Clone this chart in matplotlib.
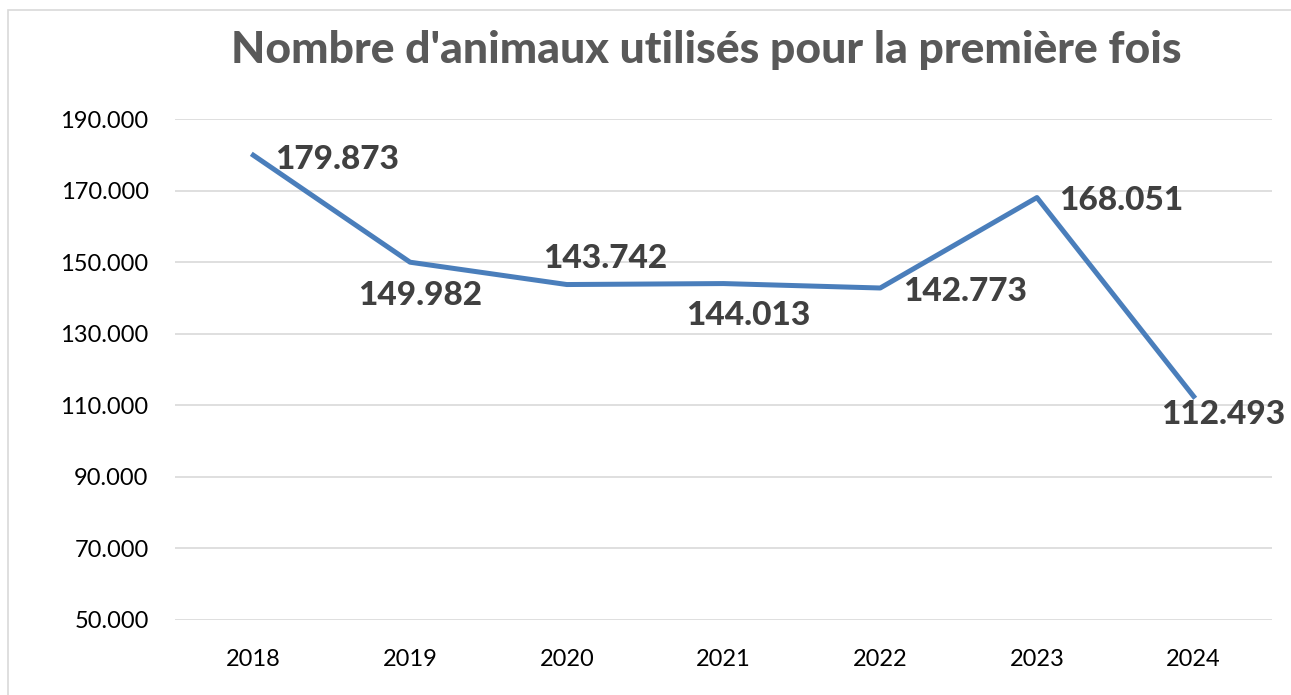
import matplotlib.pyplot as plt
from matplotlib.ticker import FuncFormatter
from matplotlib.patches import Rectangle

years = ['2018', '2019', '2020', '2021', '2022', '2023', '2024']
animals = [179873, 149982, 143742, 144013, 142773, 168051, 112493]
# label placement: (dx to text centre, dy to text baseline) in pixels from the point
label_off = [(84, -14), (10, -43), (38, 17), (25, -41), (85, -13), (84, -12), (30, -28)]

plt.rcParams['font.family'] = ['Lato', 'DejaVu Sans']

fig = plt.figure(figsize=(12.91, 6.95), dpi=100)
ax = fig.add_axes([175/1291, 1 - 620/695, (1272 - 175)/1291, (620 - 119)/695])

# chart border (Excel frame)
fig.patches.append(Rectangle((8/1291, -0.1), 1.2, 1 - 10/695 + 0.1,
                             transform=fig.transFigure, fill=False,
                             edgecolor='#d9d9d9', linewidth=1.2))

x = list(range(len(years)))
ax.plot(x, animals, color='#4a7ebb', linewidth=3.6, solid_joinstyle='round')

for i, v in enumerate(animals):
    txt = f'{v:,}'.replace(',', '.')
    ax.annotate(txt, (i, v), xytext=label_off[i], textcoords='offset pixels',
                ha='center', va='baseline', fontsize=24, fontweight='black',
                color='#404040')

ax.set_xlim(-0.5, len(years) - 0.5)
ax.set_ylim(50000, 190000)
ax.set_yticks(range(50000, 190001, 20000))
ax.yaxis.set_major_formatter(FuncFormatter(lambda v, p: f'{int(v):,}'.replace(',', '.')))
ax.set_xticks(x)
ax.set_xticklabels(years)
ax.tick_params(axis='both', length=0, labelsize=17, colors='black')
ax.tick_params(axis='y', pad=19)
ax.tick_params(axis='x', pad=21)
ax.grid(axis='y', color='#d9d9d9', linewidth=1.2)
ax.set_axisbelow(True)
for s in ax.spines.values():
    s.set_visible(False)

fig.text(706/1291, 1 - 50/695, "Nombre d'animaux utilisés pour la première fois",
         ha='center', va='center', fontsize=32, fontweight='black', color='#595959')

fig.savefig('out.png', dpi=100)
